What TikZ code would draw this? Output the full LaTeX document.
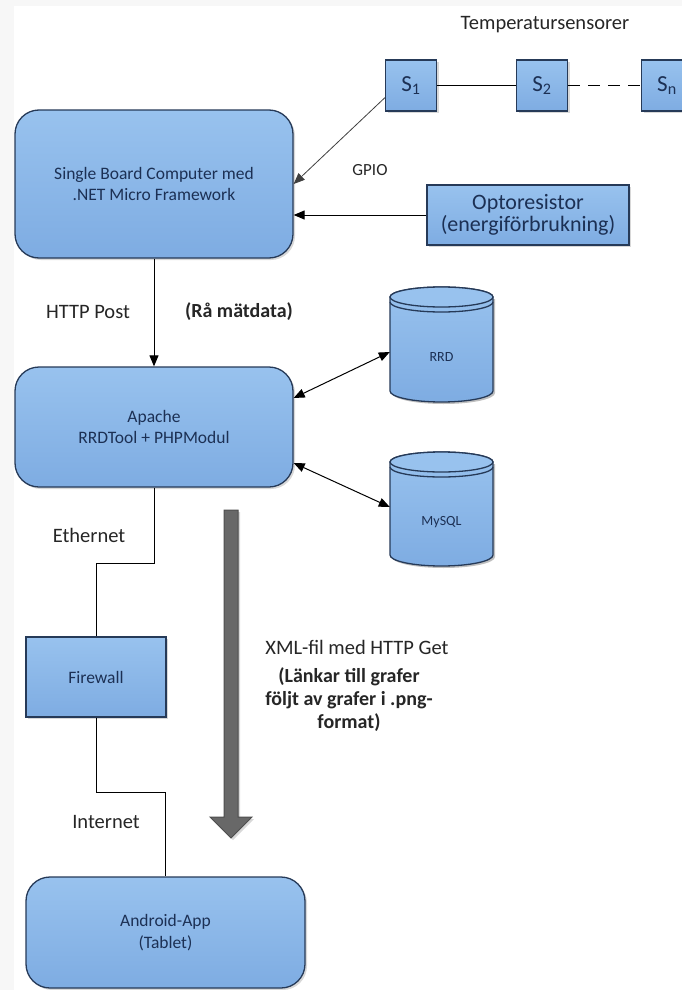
\documentclass[tikz,border=0pt]{standalone}
\usepackage{fontspec}
\setmainfont{Carlito}
\usetikzlibrary{arrows.meta,shadows}
\definecolor{blauoben}{RGB}{152,194,238}
\definecolor{blauunten}{RGB}{126,172,226}
\definecolor{randfarbe}{RGB}{38,58,88}
\definecolor{textfarbe}{RGB}{28,48,84}
\definecolor{grau}{RGB}{104,104,104}
\definecolor{graurand}{RGB}{78,78,78}
\newcommand{\sensor}[1]{S\textsubscript{#1}}
\begin{document}
\begin{tikzpicture}[x=1pt,y=1pt,
  kasten/.style={draw=randfarbe, line width=1.3pt, top color=blauoben, bottom color=blauunten,
    text=textfarbe, align=center, inner sep=0pt,
    drop shadow={shadow xshift=2pt,shadow yshift=-2pt,opacity=.3}},
  rund/.style={kasten, rounded corners=24pt},
  boxtext/.style={font=\fontsize{17.5}{21.5}\selectfont},
  etikett/.style={font=\fontsize{20.5}{24}\selectfont, text=black!85},
  fett/.style={font=\bfseries\fontsize{20}{23}\selectfont, text=black!85, align=center},
  pfeil/.style={line width=1pt, -{Triangle[length=11pt,width=9pt]}},
  doppel/.style={line width=1pt, {Triangle[length=11pt,width=9pt]}-{Triangle[length=11pt,width=9pt]}}]
\useasboundingbox (0,0) rectangle (682,-990);
\fill[white] (0,0) rectangle (682,-990);
% Bakgrund
\fill[black!3] (0,0) rectangle (14,-990);
\fill[black!3] (0,0) rectangle (682,-6);
% Sensorer
\node[etikett] (temp) at (545,-25) {Temperatursensorer};
\node[kasten, minimum size=51pt, font=\fontsize{23}{23}\selectfont] (s1) at (411,-85.5) {\sensor{1}};
\node[kasten, minimum size=51pt, font=\fontsize{23}{23}\selectfont] (s2) at (542,-85.5) {\sensor{2}};
\node[kasten, minimum size=51pt, font=\fontsize{23}{23}\selectfont] (sn) at (667,-85.5) {\sensor{n}};
\draw[line width=1pt] (s1) -- (s2);
\draw[line width=1pt, dash pattern=on 12pt off 8pt] (s2) -- (sn);
% Datorer
\node[rund, boxtext, minimum width=278pt, minimum height=148pt] (sbc) at (154,-184)
  {Single Board Computer med\\.NET Micro Framework};
\node[kasten, minimum width=202pt, minimum height=60pt, font=\fontsize{22}{22}\selectfont] (opto) at (528,-215)
  {Optoresistor\\(energiförbrukning)};
\node[rund, boxtext, minimum width=278pt, minimum height=120pt] (apache) at (154,-427)
  {Apache\\RRDTool + PHPModul};
\node[kasten, boxtext, minimum width=140pt, minimum height=80pt] (brandvagg) at (96,-677) {Firewall};
\node[rund, boxtext, minimum width=279pt, minimum height=111pt] (android) at (165.5,-932.5)
  {Android-App\\(Tablet)};
% Databaser
\foreach \namn/\txt/\yo/\yu in {rrd/RRD/287/402, mysql/MySQL/452/566} {
  \fill[black, opacity=.25] (392,{-\yo-12}) -- (392,{-\yu+9}) arc (180:360:51.5pt and 11pt)
    -- (495,{-\yo-12}) -- cycle;
  \draw[randfarbe, line width=1.3pt, top color=blauoben, bottom color=blauunten]
    (390,{-\yo-10}) -- (390,{-\yu+11}) arc (180:360:51.5pt and 11pt)
    -- (493,{-\yo-10}) arc (0:180:51.5pt and 10pt) -- cycle;
  \draw[randfarbe, line width=1.3pt, fill=blauoben] (441.5,{-\yo-10}) ellipse (51.5pt and 10pt);
  \draw[randfarbe, line width=1.3pt] (390,{-\yo-15}) arc (180:360:51.5pt and 10pt);
  \node[minimum width=103pt, minimum height=115pt, inner sep=0pt] (\namn) at (441.5,{-(\yo+\yu)/2}) {};
  \node[text=textfarbe, font=\fontsize{14}{14}\selectfont] at ([yshift=-13pt]\namn.center) {\txt};
}
% Kopplingar
\draw[pfeil, line width=.8pt, black!75] (s1.205) -- (sbc.east);
\node[etikett, font=\fontsize{17}{17}\selectfont] (gpio) at (370,-170) {GPIO};
\draw[pfeil] (opto.west) -- (opto.west -| sbc.east);
\draw[pfeil] (sbc.south) -- (apache.north);
\node[etikett] (post) at (88,-312) {HTTP Post};
\node[fett] (ra) at (239,-312) {(Rå mätdata)};
\draw[doppel] ([yshift=29pt]apache.east) -- ([yshift=-7.5pt]rrd.west);
\draw[doppel] ([yshift=-36pt]apache.east) -- ([yshift=2pt]mysql.west);
\draw[line width=1pt] (apache.south) -- ++(0,-76) -| (brandvagg.north);
\node[etikett] (eth) at (89,-535) {Ethernet};
\draw[line width=1pt] (brandvagg.south) -- ++(0,-75) -| (android.north);
\node[etikett] (inet) at (106,-822) {Internet};
% XML-pil
\draw[graurand, fill=grau, line width=1pt, drop shadow={shadow xshift=2pt,shadow yshift=-2pt,opacity=.3}]
  (224,-510) -- (224,-817) -- (210,-817) -- (231,-838) -- (252,-817) -- (238,-817) -- (238,-510) -- cycle;
\node[etikett] (xml) at (357,-647) {XML-fil med HTTP Get};
\node[fett] (lank) at (349,-700) {(Länkar till grafer\\följt av grafer i .png-\\format)};
\end{tikzpicture}
\end{document}
